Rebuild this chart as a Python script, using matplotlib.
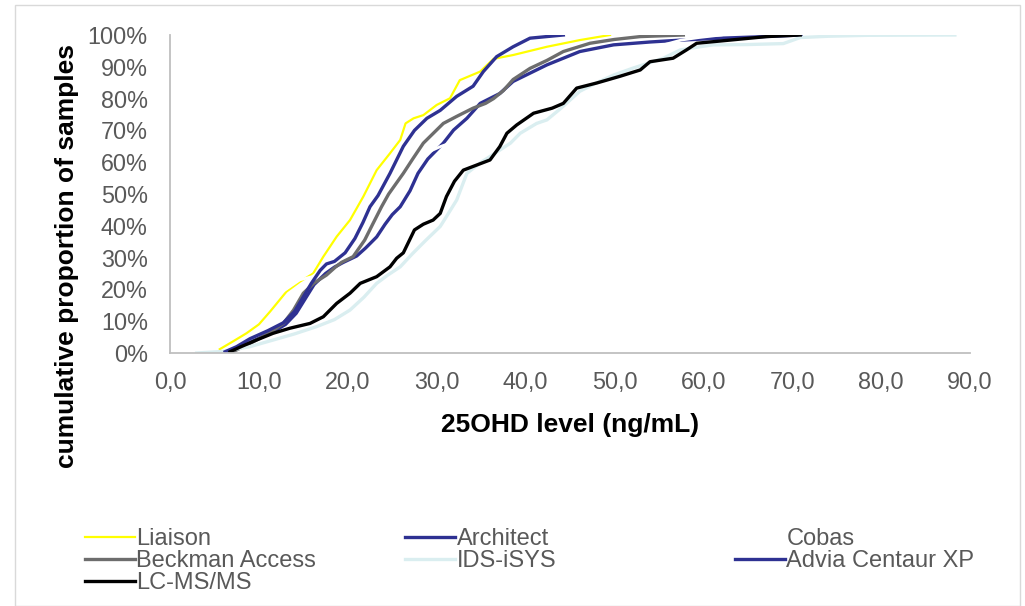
import matplotlib
matplotlib.use("Agg")
import matplotlib.pyplot as plt
from matplotlib.patches import Rectangle
from matplotlib.ticker import FuncFormatter

plt.rcParams['font.family'] = ['Liberation Sans', 'DejaVu Sans']

# cumulative curves, x = 25OHD (ng/mL), y = cumulative % of samples
liaison_x = [5.6, 7.0, 8.6, 10.0, 11.25, 13.1, 14.6, 16.1, 17.25, 18.75, 20.25, 21.75, 23.25, 24.75,
             25.9, 26.5, 27.4, 28.5, 30.0, 31.5, 32.6, 34.9, 36.4, 38.6, 42.4, 46.1, 49.5]
liaison_y = [1.2, 3.5, 6.2, 9.0, 13.0, 19.3, 22.4, 25.0, 30.3, 36.6, 41.8, 49.2, 57.5, 62.8,
             67.0, 72.2, 73.8, 74.8, 78.0, 80.1, 85.8, 88.5, 92.5, 93.7, 96.3, 98.4, 100]

architect_x = [6.5, 8.0, 9.5, 11.5, 13.0, 14.2, 15.2, 16.2, 17.5, 18.5, 19.5, 21.0, 22.0, 23.25, 24.2,
               25.0, 25.9, 27.0, 27.9, 29.0, 30.75, 31.9, 33.4, 34.9, 37.1, 38.6, 42.4, 46.1, 49.9,
               54.0, 57.5, 62.0, 66.0, 71.0]
architect_y = [0.3, 2.0, 4.0, 6.5, 9.0, 12.5, 17.0, 21.5, 25.0, 27.0, 28.5, 30.5, 33.0, 36.5, 40.5,
               43.5, 46.0, 51.0, 56.5, 61.0, 66.0, 70.1, 73.8, 78.5, 81.6, 85.4, 90.6, 94.8, 96.9,
               97.8, 98.4, 99.0, 99.4, 100]

cobas_x = [2.7, 4.5, 6.5, 8.5, 10.5, 12.5, 14.6, 16.0, 17.0, 18.8, 21.8, 24.2, 26.0, 27.3, 30.5,
           33.5, 40.0, 48.0, 53.0, 57.5, 59.5, 62.0]
cobas_y = [0.0, 1.5, 4.0, 8.0, 13.0, 19.0, 23.0, 24.0, 26.0, 30.0, 40.0, 50.0, 58.0, 61.0, 65.0,
           68.0, 80.0, 90.0, 95.0, 98.4, 99.2, 100]

beckman_x = [7.0, 9.0, 11.0, 12.75, 13.9, 15.0, 16.2, 17.6, 18.6, 19.3, 20.6, 21.9, 22.8, 23.8, 24.6,
             26.25, 27.3, 28.5, 30.75, 32.25, 34.1, 35.5, 36.4, 37.5, 38.6, 40.5, 42.4, 44.25, 47.25,
             50.0, 52.9, 57.75]
beckman_y = [0.3, 3.0, 6.0, 9.3, 13.5, 18.8, 22.0, 24.5, 27.0, 28.5, 30.3, 35.5, 40.5, 46.0, 50.0,
             56.5, 61.0, 66.0, 72.2, 74.4, 77.0, 78.5, 80.0, 82.5, 86.0, 89.5, 92.0, 94.8, 97.4,
             98.6, 99.5, 100]

ids_x = [3.0, 6.0, 9.0, 11.5, 14.0, 16.5, 18.5, 20.25, 21.8, 23.25, 24.5, 25.9, 27.3, 28.8, 30.4,
         31.1, 32.25, 33.4, 35.0, 37.1, 38.3, 39.4, 41.25, 42.4, 44.0, 46.1, 48.0, 49.9, 52.0,
         55.5, 57.4, 59.6, 61.1, 65.0, 69.0, 70.9, 74.0, 78.4, 83.0, 88.3]
ids_y = [0.0, 0.5, 2.0, 4.0, 6.0, 8.3, 10.5, 13.5, 17.5, 21.9, 24.5, 27.1, 31.3, 35.5, 39.8,
         42.9, 48.1, 56.5, 60.0, 63.8, 66.0, 69.1, 72.2, 73.3, 77.0, 82.3, 85.0, 87.4, 89.5,
         92.7, 95.3, 96.3, 96.9, 97.0, 97.3, 99.2, 99.6, 99.9, 99.95, 100]

advia_x = [6.2, 7.5, 9.0, 11.0, 12.75, 14.0, 14.8, 15.9, 16.9, 17.6, 18.5, 19.7, 20.8, 21.7, 22.5,
           23.4, 24.75, 26.25, 27.5, 28.9, 30.4, 32.25, 34.1, 35.25, 36.75, 38.6, 40.5, 44.25]
advia_y = [0.4, 2.0, 4.5, 7.0, 9.5, 13.0, 16.7, 21.9, 26.0, 28.0, 28.8, 31.5, 36.0, 41.0, 46.0,
           49.5, 56.5, 65.0, 70.0, 73.8, 76.3, 80.7, 83.9, 88.5, 93.2, 96.3, 99.0, 100]

lcms_x = [6.75, 8.0, 9.75, 11.6, 13.5, 15.75, 17.25, 18.75, 20.25, 21.4, 23.25, 24.75, 25.5, 26.25,
          27.5, 28.5, 29.6, 30.4, 31.1, 32.0, 33.0, 34.5, 36.0, 37.1, 37.9, 39.0, 40.9, 43.0, 44.25,
          45.75, 48.0, 50.6, 52.9, 54.0, 56.6, 58.1, 59.25, 63.0, 67.1, 70.9]
lcms_y = [0.4, 2.0, 4.1, 6.2, 7.8, 9.3, 11.4, 15.6, 18.8, 21.9, 24.0, 27.1, 29.8, 31.5,
          38.7, 40.5, 41.8, 43.9, 49.2, 54.0, 57.5, 59.1, 60.7, 64.9, 69.1, 71.7, 75.4, 77.0, 78.5,
          83.3, 84.9, 87.0, 89.0, 91.6, 92.7, 95.3, 97.4, 98.4, 99.5, 100]

x_ticks = [0, 10, 20, 30, 40, 50, 60, 70, 80, 90]
y_ticks = [0, 10, 20, 30, 40, 50, 60, 70, 80, 90, 100]

W, H = 1025, 606
fig = plt.figure(figsize=(W / 100, H / 100), dpi=100)
ax = fig.add_axes([170 / W, 1 - 353 / H, 800 / W, 318 / H])

navy = '#2E3192'
series = [
    ('Liaison', liaison_x, liaison_y, '#FFFF00', 1.6),
    ('Architect', architect_x, architect_y, navy, 2.4),
    ('Cobas', cobas_x, cobas_y, '#FFFFFF', 2.0),
    ('Beckman Access', beckman_x, beckman_y, '#6D6D6D', 2.4),
    ('IDS-iSYS', ids_x, ids_y, '#DAEEF0', 2.4),
    ('Advia Centaur XP', advia_x, advia_y, navy, 2.4),
    ('LC-MS/MS', lcms_x, lcms_y, '#000000', 2.4),
]
lines = {}
for name, xs, ys, col, lw in series:
    ln, = ax.plot(xs, [v / 100 for v in ys], color=col, lw=lw, label=name)
    lines[name] = ln

ax.set_xlim(0, 90)
ax.set_ylim(0, 1.0)
ax.set_xticks(x_ticks)
ax.set_yticks([v / 100 for v in y_ticks])
ax.xaxis.set_major_formatter(FuncFormatter(lambda v, p: f"{v:.1f}".replace('.', ',')))
ax.yaxis.set_major_formatter(FuncFormatter(lambda v, p: f"{v * 100:.0f}%"))
ax.tick_params(axis='both', length=0, labelsize=16.8, colors='#595959')
ax.tick_params(axis='y', pad=16)
ax.tick_params(axis='x', pad=13)
for s in ['top', 'right']:
    ax.spines[s].set_visible(False)
for s in ['left', 'bottom']:
    ax.spines[s].set_color('#BFBFBF')
    ax.spines[s].set_linewidth(1.3)

fig.text(570 / W, 1 - 425 / H, '25OHD level (ng/mL)', ha='center', va='center',
         fontsize=19, fontweight='bold')
fig.text(67 / W, 1 - 256 / H, 'cumulative proportion of samples', ha='center', va='center',
         rotation=90, fontsize=19, fontweight='bold')

# legend: three columns, filled row by row like the original
columns = [(['Liaison', 'Beckman Access', 'LC-MS/MS'], 85),
           (['Architect', 'IDS-iSYS'], 405),
           (['Cobas', 'Advia Centaur XP'], 735)]
for names, xpx in columns:
    fig.legend([lines[n] for n in names], names, loc='upper left',
               bbox_to_anchor=(xpx / W, 1 - 528 / H), frameon=False, fontsize=17,
               handlelength=2.1, handletextpad=0.08, labelspacing=0.0,
               borderpad=0, borderaxespad=0, labelcolor='#595959')

fig.patches.append(Rectangle((15 / W, 0), 1005 / W, 1 - 5 / H, transform=fig.transFigure,
                             fill=False, edgecolor='#D9D9D9', lw=1))

fig.savefig('out.png', dpi=100)
